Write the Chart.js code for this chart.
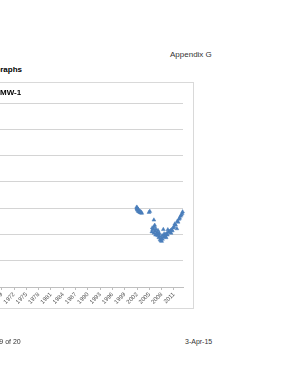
<!DOCTYPE html>
<html>
<head>
<meta charset="utf-8">
<script src="https://cdn.jsdelivr.net/npm/chart.js@4.4.1/dist/chart.umd.min.js"></script>
<style>
  html, body { margin: 0; padding: 0; background: #fff; overflow: hidden; }
  body { width: 293px; height: 380px; position: relative; font-family: "Liberation Sans", Arial, sans-serif; }
  .txt { position: absolute; font-size: 8px; color: #333; white-space: nowrap; line-height: 1; }
  #appendix { left: 170px; top: 51px; }
  #section { left: -6px; top: 66px; font-weight: bold; color: #000; }
  #page { left: -19px; top: 338px; font-size: 7px; }
  #date { left: 185px; top: 338px; font-size: 7px; }
  #box { position: absolute; left: -60px; top: 82px; width: 254px; height: 227px; box-sizing: border-box; border: 1px solid #d9d9d9; }
  #box canvas { display: block; }
  #chartTitle { position: absolute; left: 59px; top: 6px; font-size: 8px; font-weight: bold; color: #000; white-space: nowrap; line-height: 1; }
</style>
</head>
<body>
<div class="txt" id="appendix">Appendix G</div>
<div class="txt" id="section">Graphs</div>
<div id="box">
  <canvas id="mw1" width="252" height="225"></canvas>
  <div id="chartTitle">MW-1</div>
</div>
<div class="txt" id="page">Page 9 of 20</div>
<div class="txt" id="date">3-Apr-15</div>
<script>
// sample dates (decimal years) and measured values for MW-1
const sampleYears = [
  2001.9, 2001.95, 2002.0, 2002.05, 2002.1, 2002.2, 2002.25, 2002.3, 2002.4, 2002.5,
  2002.6, 2002.7, 2002.8, 2002.9, 2003.0, 2003.15,
  2004.9, 2005.1, 2006.1,
  2005.6, 2005.8, 2006.0, 2006.1, 2006.2, 2006.4, 2006.6, 2006.7, 2006.9, 2007.0,
  2007.2, 2007.3, 2007.5, 2007.6, 2007.8, 2007.9, 2008.0, 2008.2, 2008.4, 2008.5,
  2008.7, 2008.9, 2009.0, 2009.2, 2009.4, 2009.6, 2009.8, 2010.0, 2010.2, 2010.4,
  2010.6, 2011.0, 2011.2, 2011.4, 2011.7, 2011.8, 2012.0, 2012.2, 2012.4, 2012.6,
  2012.8, 2013.0, 2013.1,
  2005.7, 2006.3, 2006.5, 2007.1, 2007.4, 2008.1, 2008.6, 2009.1, 2009.5, 2010.3, 2010.8
];
const levels = [
  3.04, 2.98, 3.02, 2.94, 2.99, 2.92, 2.96, 2.88, 2.91, 2.86,
  2.89, 2.84, 2.87, 2.82, 2.85, 2.81,
  2.84, 2.88, 2.55,
  2.10, 2.18, 2.22, 2.05, 2.30, 2.12, 2.20, 2.00, 2.08, 1.95,
  2.02, 1.88, 1.93, 1.80, 1.76, 1.85, 1.74, 1.82, 2.19, 1.90,
  1.95, 1.92, 2.00, 2.03, 1.98, 2.08, 2.12, 2.10, 2.15, 2.18,
  2.14, 2.30, 2.40, 2.36, 2.22, 2.50, 2.47, 2.58, 2.62, 2.70,
  2.74, 2.80, 2.86,
  2.25, 2.35, 1.98, 2.15, 2.05, 1.95, 2.02, 1.88, 2.18, 2.05, 2.25
];
const tickYears = [1969, 1972, 1975, 1978, 1981, 1984, 1987, 1990, 1993, 1996, 1999, 2002, 2005, 2008, 2011];

const points = sampleYears.map((x, i) => ({ x: x, y: levels[i] }));

new Chart(document.getElementById('mw1').getContext('2d'), {
    type: 'scatter',
    data: {
        datasets: [{
            data: points,
            pointStyle: 'triangle',
            pointRadius: 2.2,
            pointBackgroundColor: '#4a7ebb',
            pointBorderColor: '#4a7ebb',
            pointBorderWidth: 0.5,
            clip: false
        }]
    },
    options: {
        responsive: false,
        animation: false,
        layout: { padding: { top: 20, right: 10, left: 0, bottom: 0 } },
        plugins: { legend: { display: false }, tooltip: { enabled: false } },
        scales: {
            x: {
                type: 'linear',
                min: 1961.5,
                max: 2013.2,
                afterBuildTicks: axis => { axis.ticks = tickYears.map(v => ({ value: v })); },
                afterFit: axis => { axis.height = 21; },
                grid: { drawOnChartArea: false, drawTicks: true, tickLength: 3, color: '#bfbfbf' },
                border: { display: true, color: '#bfbfbf' },
                ticks: {
                    autoSkip: false,
                    minRotation: 45,
                    maxRotation: 45,
                    padding: 1,
                    color: '#505050',
                    font: { size: 6, family: 'Liberation Sans' },
                    callback: v => String(v)
                }
            },
            y: {
                min: 0,
                max: 7,
                afterFit: axis => { axis.width = 30; },
                grid: { color: '#d4d4d4', drawTicks: false },
                border: { display: false },
                ticks: { stepSize: 1, color: '#404040', font: { size: 7, family: 'Liberation Sans' } }
            }
        }
    }
});
</script>
</body>
</html>
